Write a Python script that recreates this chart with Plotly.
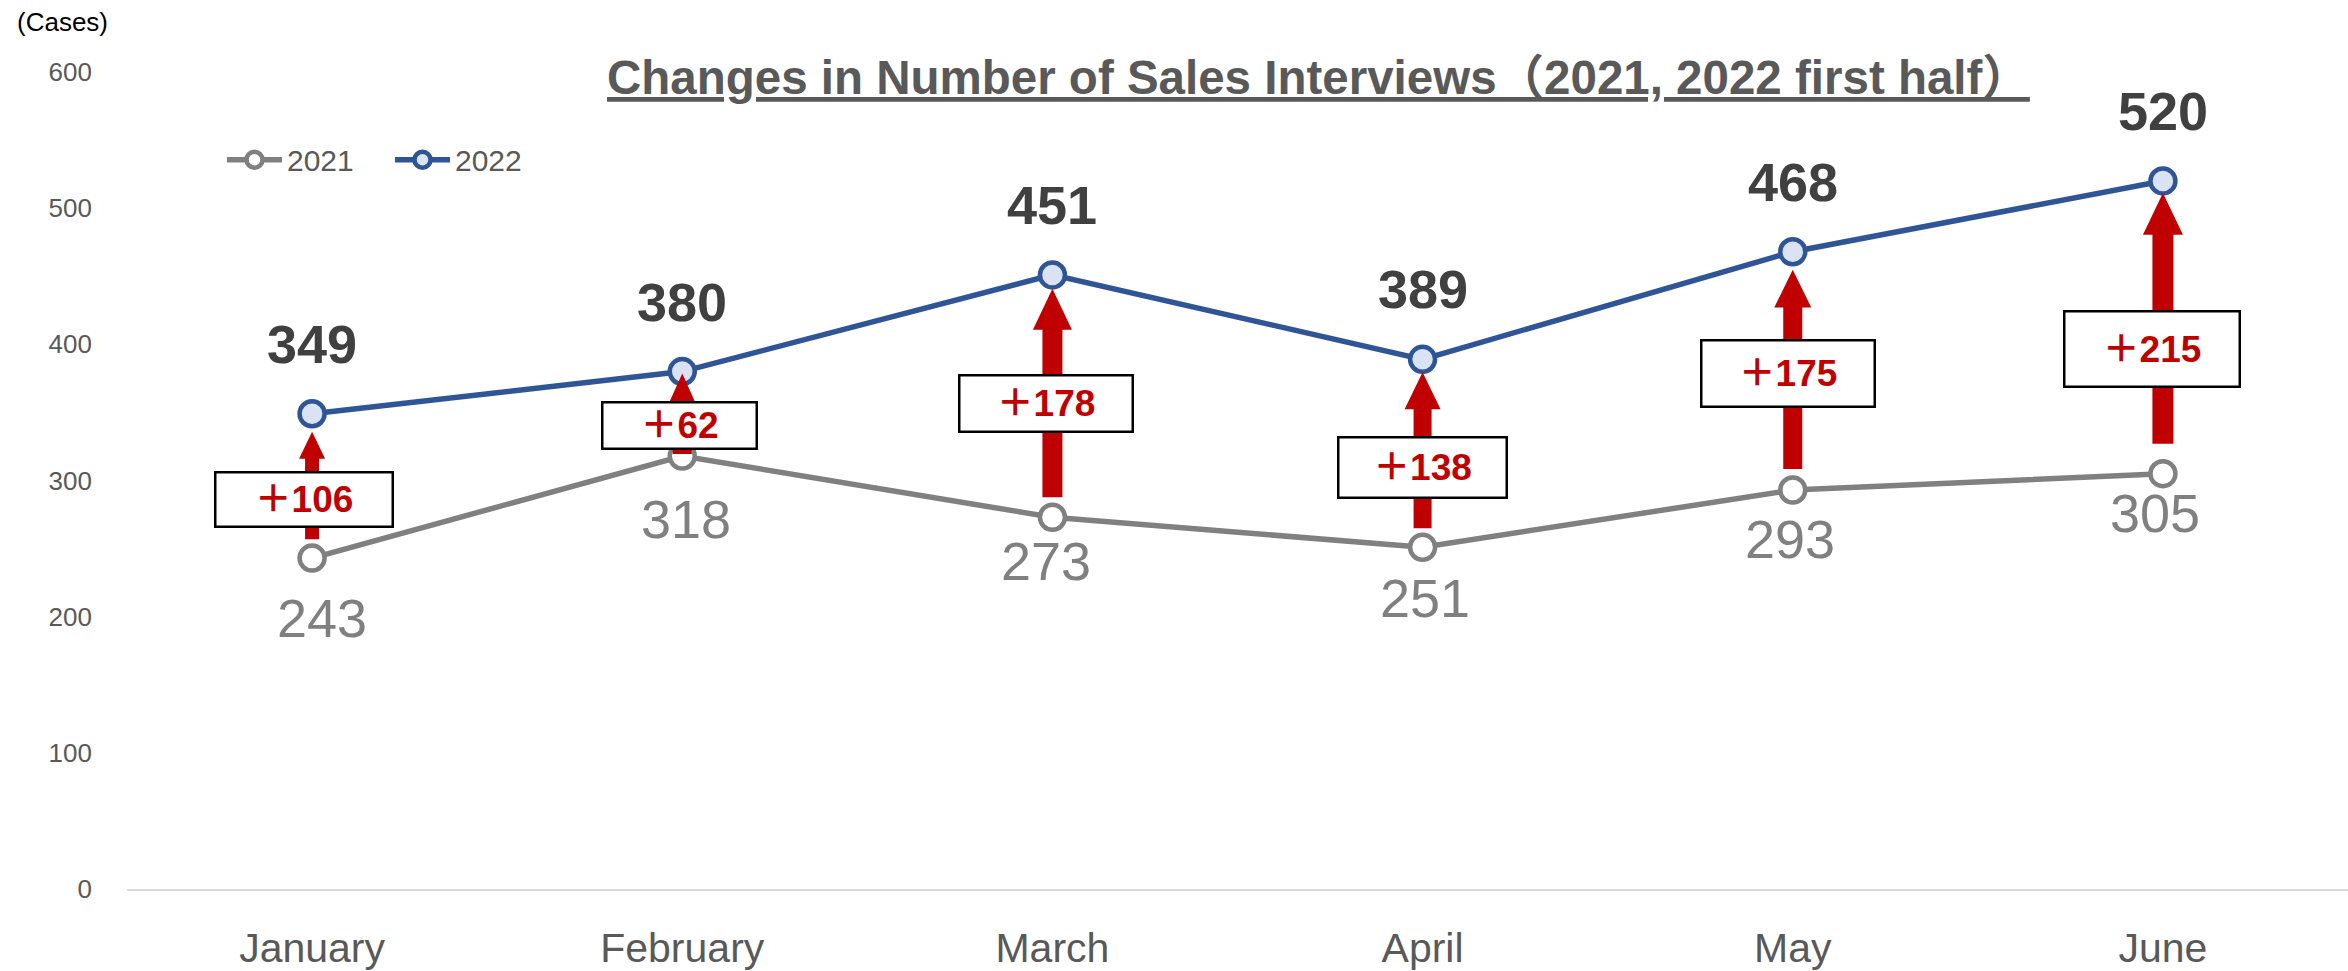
import plotly.graph_objects as go

# ---------------- data ----------------
months = ["January", "February", "March", "April", "May", "June"]
sales_2021 = [243, 318, 273, 251, 293, 305]
sales_2022 = [349, 380, 451, 389, 468, 520]
y_ticks = [0, 100, 200, 300, 400, 500, 600]

# ---------------- layout constants (pixels / styling) ----------------
W, H = 2348, 971
M_L, M_R, M_T, M_B = 127, 0, 72, 80
Y_MAX = 600
PX_X = (W - M_L - M_R) / len(months)       # px per category
PX_Y = (H - M_T - M_B) / Y_MAX              # px per value unit

GRAY = "#808080"
BLUE = "#2F5597"
BLUE_FILL = "#DAE3F3"
RED = "#C00000"
TXT = "#595959"
DARK = "#404040"
FONT = "Liberation Sans, Arial, Noto Sans CJK JP, sans-serif"

# per-month cosmetic tweaks (px)
lab21_shift = [60, 63, 44, 51, 49, 39]
lab21_xshift = [10, 4, -6, 2, -3, -8]
box_center_px = [501, 426, 404, 468, 374, 350]     # y pixel centers of the boxes
box_w = [175, 152, 171, 166, 171, 173]
box_h = [52, 44, 54, 58, 64, 73]
box_xshift = [-8, -3, -6, 0, -5, -11]
shaft_w = [14, 19, 20, 18, 19, 21]
head_w = [26, 27, 39, 36, 37, 40]
head_h = [27, 30, 41, 37, 38, 42]
tip_gap = [18, 2, 14, 13, 18, 12]
base_gap = [19, 2, 20, 19, 21, 30]

xs = list(range(len(months)))

fig = go.Figure()
fig.add_trace(go.Scatter(
    x=xs, y=sales_2021, name="2021", mode="lines+markers",
    line=dict(color=GRAY, width=5.5),
    marker=dict(size=25, color="white", line=dict(color=GRAY, width=4.5)),
))
fig.add_trace(go.Scatter(
    x=xs, y=sales_2022, name="2022", mode="lines+markers",
    line=dict(color=BLUE, width=5.5),
    marker=dict(size=25, color=BLUE_FILL, line=dict(color=BLUE, width=4.5)),
))

annotations = []
shapes = []
for i, (a, b) in enumerate(zip(sales_2021, sales_2022)):
    # 2022 value labels
    annotations.append(dict(x=i, y=b, xref="x", yref="y", text=f"<b>{b}</b>",
                            showarrow=False, yshift=70, yanchor="middle",
                            font=dict(family=FONT, size=54, color=DARK)))
    # 2021 value labels
    annotations.append(dict(x=i, y=a, xref="x", yref="y", text=f"{a}",
                            showarrow=False, yshift=-lab21_shift[i], xshift=lab21_xshift[i],
                            yanchor="middle",
                            font=dict(family=FONT, size=54, color=GRAY)))
    # arrows
    sw = shaft_w[i] / PX_X / 2
    hw = head_w[i] / PX_X / 2
    y_tip = b - tip_gap[i] / PX_Y
    y_hb = y_tip - head_h[i] / PX_Y
    y_base = a + base_gap[i] / PX_Y
    path = (f"M {i - sw},{y_base} L {i - sw},{y_hb} L {i - hw},{y_hb} L {i},{y_tip} "
            f"L {i + hw},{y_hb} L {i + sw},{y_hb} L {i + sw},{y_base} Z")
    shapes.append(dict(type="path", path=path, xref="x", yref="y",
                       fillcolor=RED, line=dict(width=0), layer="above"))
    # increase boxes
    yc = (H - M_B - box_center_px[i]) / PX_Y
    annotations.append(dict(x=i, y=yc, xref="x", yref="y", text=f"<b>＋{b - a}</b>",
                            showarrow=False, xshift=box_xshift[i], yanchor="middle",
                            width=box_w[i], height=box_h[i],
                            bgcolor="white", bordercolor="black", borderwidth=2.5,
                            borderpad=0,
                            font=dict(family=FONT, size=37, color=RED)))

# title and unit
annotations.append(dict(x=(1318 - M_L) / (W - M_L - M_R), y=(H - M_B - 78) / (H - M_T - M_B),
                        xref="paper", yref="paper", showarrow=False, yanchor="middle",
                        text="<b><u>Changes in Number of Sales Interviews（2021, 2022 first half）</u></b>",
                        font=dict(family=FONT, size=47.5, color=TXT)))
annotations.append(dict(x=(15 - M_L) / (W - M_L - M_R), y=(H - M_B - 22) / (H - M_T - M_B),
                        xref="paper", yref="paper", showarrow=False, xanchor="left",
                        yanchor="middle", text="(Cases)",
                        font=dict(family=FONT, size=26, color="black")))

fig.update_layout(
    width=W, height=H,
    margin=dict(l=M_L, r=M_R, t=M_T, b=M_B),
    paper_bgcolor="white", plot_bgcolor="white",
    showlegend=True,
    legend=dict(orientation="h", x=(222 - M_L) / (W - M_L - M_R),
                y=(H - M_B - 160) / (H - M_T - M_B), xanchor="left", yanchor="middle",
                font=dict(family=FONT, size=30, color=TXT), itemwidth=55,
                entrywidth=98, entrywidthmode="pixels", bgcolor="rgba(0,0,0,0)"),
    xaxis=dict(range=[-0.5, len(months) - 0.5], tickvals=xs, ticktext=months,
               showgrid=False, zeroline=False, showline=True, linecolor="#D9D9D9",
               linewidth=2, ticks="", ticklabelstandoff=22,
               tickfont=dict(family=FONT, size=41, color=TXT), fixedrange=True),
    yaxis=dict(range=[0, Y_MAX], tickvals=y_ticks, showgrid=False, zeroline=False,
               showline=False, ticks="", ticklabelstandoff=34,
               tickfont=dict(family=FONT, size=26, color=TXT), fixedrange=True),
    annotations=annotations,
    shapes=shapes,
)

fig.write_html("out.html", config={"displayModeBar": False},
               post_script="document.body.style.margin='0';document.body.style.overflow='hidden';")
